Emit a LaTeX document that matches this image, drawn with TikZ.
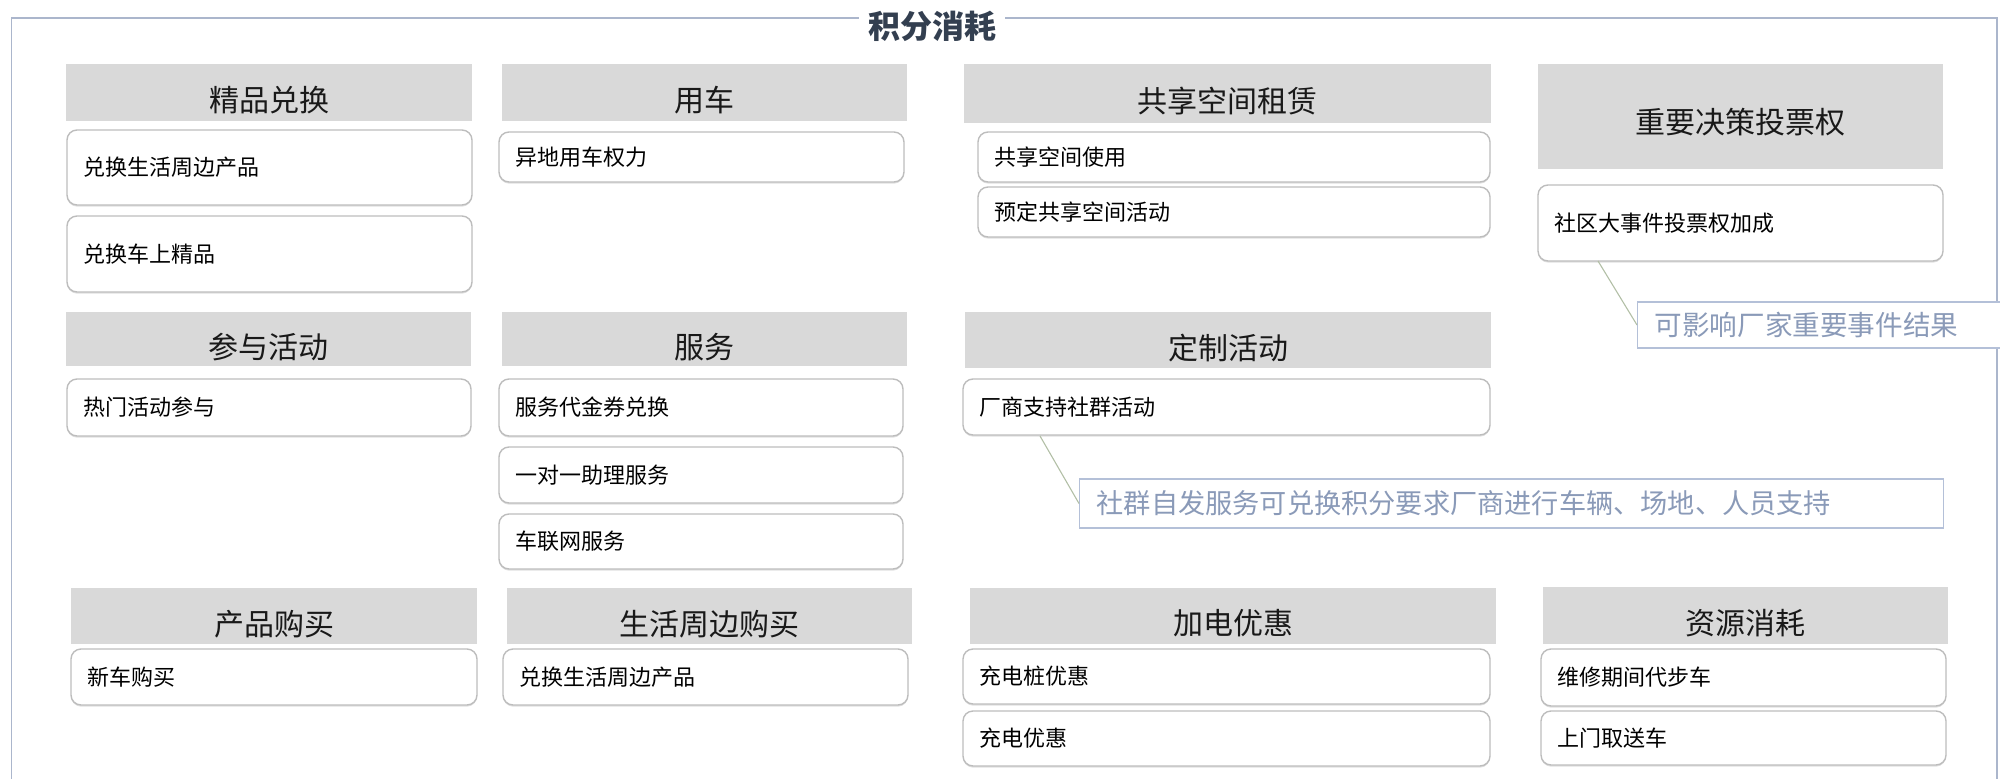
\documentclass[tikz,border=0pt]{standalone}
\usepackage{fontspec}
\setmainfont{Noto Sans CJK SC}
\usetikzlibrary{shadows}
\definecolor{hdrgray}{HTML}{D9D9D9}
\definecolor{itemline}{HTML}{BDBDBD}
\definecolor{frameline}{HTML}{ABB6CC}
\definecolor{notetext}{HTML}{8A9AB8}
\definecolor{noteline}{HTML}{B4C0D8}
\definecolor{connline}{HTML}{B2BFA6}
\definecolor{titlecol}{HTML}{333F50}
\tikzset{
  hdr/.style={fill=hdrgray, draw=none, inner sep=0pt, text height=38.8pt, text depth=0pt,
    font=\fontsize{30}{36}\selectfont, text=black!90},
  item/.style={fill=white, draw=itemline, line width=1.4pt, rounded corners=10pt,
    inner xsep=16pt, inner ysep=0pt, align=left, font=\fontsize{22}{26}\selectfont,
    drop shadow={shadow xshift=0pt, shadow yshift=-1.6pt, opacity=0.3, fill=black!40}},
  note/.style={fill=white, draw=noteline, line width=1.4pt, inner xsep=17pt, inner ysep=0pt,
    align=left, text=notetext},
  conn/.style={draw=connline, line width=1.1pt},
}
\begin{document}
\begin{tikzpicture}[x=1pt, y=-1pt]
\useasboundingbox (0,0) rectangle (2000,779);
% outer frame
\draw[frameline, line width=1.5pt] (11.5,800) -- (11.5,18) -- (1997,18) -- (1997,800);
\node[fill=white, inner xsep=9pt, inner ysep=2pt, font=\fontsize{32}{38}\selectfont\bfseries, text=titlecol] (title) at (932,26) {积分消耗};

% ---------- row 1 ----------
\node[hdr, minimum width=406pt, minimum height=57pt] (h1) at (269,92.5) {精品兑换};
\node[item, text width=373pt, minimum height=75pt] (a1) at (269.5,167.5) {兑换生活周边产品};
\node[item, text width=373pt, minimum height=76pt] (a2) at (269.5,254) {兑换车上精品};

\node[hdr, minimum width=405pt, minimum height=57pt] (h2) at (704.5,92.5) {用车};
\node[item, text width=373pt, minimum height=50pt] (b1) at (701.5,157) {异地用车权力};

\node[hdr, minimum width=527pt, minimum height=59pt] (h3) at (1227.5,93.5) {共享空间租赁};
\node[item, text width=480pt, minimum height=50pt] (c1) at (1234,157) {共享空间使用};
\node[item, text width=480pt, minimum height=50pt] (c2) at (1234,212) {预定共享空间活动};

\node[hdr, minimum width=405pt, minimum height=105pt, text height=34.8pt] (h4) at (1740.5,116.5) {重要决策投票权};
\node[item, text width=373pt, minimum height=76pt] (d1) at (1740.5,223) {社区大事件投票权加成};

\node[note, minimum height=46pt, text width=330pt, font=\fontsize{27.6}{32}\selectfont, anchor=west] (n1) at (1637,325) {可影响厂家重要事件结果};
\coordinate (n1s) at (1598,261);
\draw[conn] (n1s) -- (n1.west);

% ---------- row 2 ----------
\node[hdr, minimum width=405pt, minimum height=54pt] (h5) at (268.5,339) {参与活动};
\node[item, text width=372pt, minimum height=57pt] (e1) at (269,407.5) {热门活动参与};

\node[hdr, minimum width=405pt, minimum height=54pt] (h6) at (704.5,339) {服务};
\node[item, text width=372pt, minimum height=57pt] (f1) at (701,407.5) {服务代金券兑换};
\node[item, text width=372pt, minimum height=56pt] (f2) at (701,475) {一对一助理服务};
\node[item, text width=372pt, minimum height=55pt] (f3) at (701,541.5) {车联网服务};

\node[hdr, minimum width=526pt, minimum height=56pt] (h7) at (1228,340) {定制活动};
\node[item, text width=495pt, minimum height=56pt] (g1) at (1226.5,407) {厂商支持社群活动};

\node[note, minimum height=49pt, text width=830pt, font=\fontsize{27.2}{30}\selectfont, anchor=west] (n2) at (1079,503.5) {社群自发服务可兑换积分要求厂商进行车辆、场地、人员支持};
\coordinate (n2s) at (1040,436);
\draw[conn] (n2s) -- (n2.west);

% ---------- row 3 ----------
\node[hdr, minimum width=406pt, minimum height=56pt] (h8) at (274,616) {产品购买};
\node[item, text width=374pt, minimum height=56pt] (p1) at (274,677) {新车购买};

\node[hdr, minimum width=405pt, minimum height=56pt] (h9) at (709.5,616) {生活周边购买};
\node[item, text width=373pt, minimum height=56pt] (q1) at (705.5,677) {兑换生活周边产品};

\node[hdr, minimum width=526pt, minimum height=56pt] (h10) at (1233,615.5) {加电优惠};
\node[item, text width=495pt, minimum height=55pt] (r1) at (1226.5,676.5) {充电桩优惠};
\node[item, text width=495pt, minimum height=55pt] (r2) at (1226.5,738.5) {充电优惠};

\node[hdr, minimum width=405pt, minimum height=57pt] (h11) at (1745.5,615.5) {资源消耗};
\node[item, text width=373pt, minimum height=57pt] (s1) at (1743.5,677.5) {维修期间代步车};
\node[item, text width=373pt, minimum height=54pt] (s2) at (1743.5,738) {上门取送车};
\end{tikzpicture}
\end{document}
